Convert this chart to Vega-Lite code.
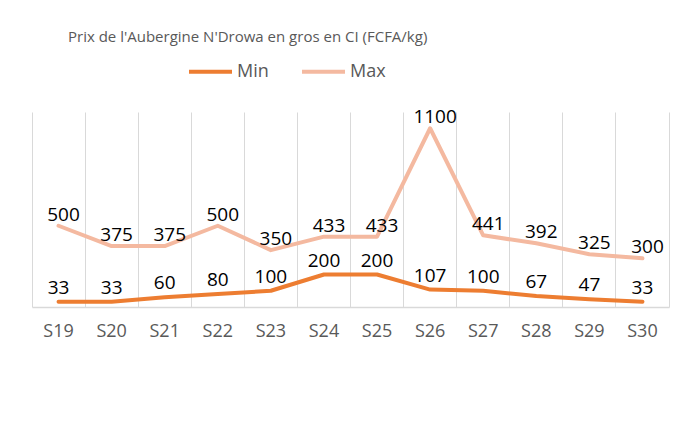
{
  "$schema": "https://vega.github.io/schema/vega-lite/v6.json",
  "width": 637,
  "height": 195,
  "autosize": {"type": "none"},
  "padding": {"left": 32, "top": 112, "right": 4, "bottom": 127},
  "background": "white",
  "config": {"view": {"stroke": null}, "font": "Open Sans"},
  "title": {
    "text": "Prix de l'Aubergine N'Drowa en gros en CI (FCFA/kg)",
    "anchor": "start",
    "frame": "group",
    "dx": 36,
    "offset": 3,
    "fontSize": 15,
    "fontWeight": "normal",
    "color": "#595959",
    "font": "Open Sans"
  },
  "data": {
    "values": [
      {"week": "S19", "series": "Min", "value": 33},
      {"week": "S20", "series": "Min", "value": 33},
      {"week": "S21", "series": "Min", "value": 60},
      {"week": "S22", "series": "Min", "value": 80},
      {"week": "S23", "series": "Min", "value": 100},
      {"week": "S24", "series": "Min", "value": 200},
      {"week": "S25", "series": "Min", "value": 200},
      {"week": "S26", "series": "Min", "value": 107},
      {"week": "S27", "series": "Min", "value": 100},
      {"week": "S28", "series": "Min", "value": 67},
      {"week": "S29", "series": "Min", "value": 47},
      {"week": "S30", "series": "Min", "value": 33},
      {"week": "S19", "series": "Max", "value": 500},
      {"week": "S20", "series": "Max", "value": 375},
      {"week": "S21", "series": "Max", "value": 375},
      {"week": "S22", "series": "Max", "value": 500},
      {"week": "S23", "series": "Max", "value": 350},
      {"week": "S24", "series": "Max", "value": 433},
      {"week": "S25", "series": "Max", "value": 433},
      {"week": "S26", "series": "Max", "value": 1100},
      {"week": "S27", "series": "Max", "value": 441},
      {"week": "S28", "series": "Max", "value": 392},
      {"week": "S29", "series": "Max", "value": 325},
      {"week": "S30", "series": "Max", "value": 300}
    ]
  },
  "layer": [
    {
      "mark": {"type": "line", "strokeWidth": 4, "strokeCap": "round", "strokeJoin": "round"},
      "encoding": {
        "x": {
          "field": "week", "type": "ordinal", "sort": null,
          "scale": {"type": "band", "paddingInner": 0, "paddingOuter": 0},
          "axis": {"orient": "bottom", "title": null, "domainColor": "#d9d9d9", "domainWidth": 1.5, "ticks": false, "grid": false, "labelColor": "#595959", "labelFontSize": 18, "labelPadding": 15, "labelAngle": 0, "labelFont": "Open Sans"}
        },
        "y": {
          "field": "value", "type": "quantitative",
          "scale": {"domain": [0, 1200], "nice": false, "zero": true},
          "axis": {"orient": "right", "title": null, "labels": false, "ticks": false, "grid": false, "domain": true, "domainColor": "#d9d9d9", "domainWidth": 1}
        },
        "color": {
          "field": "series", "type": "nominal",
          "scale": {"domain": ["Min", "Max"], "range": ["#ED7D31", "#F4B9A0"]},
          "legend": {"orient": "none", "legendX": 155, "legendY": -64, "direction": "horizontal", "title": null, "symbolType": "stroke", "symbolSize": 1849, "symbolStrokeWidth": 4, "labelFontSize": 18, "labelColor": "#595959", "columnPadding": 25, "labelOffset": 3, "labelFont": "Open Sans"}
        }
      }
    },
    {
      "transform": [{"filter": "datum.series === 'Min'"}],
      "mark": {"type": "text", "dy": -14, "fontSize": 19, "color": "#000000", "font": "Open Sans"},
      "encoding": {
        "x": {
          "field": "week", "type": "ordinal", "sort": null,
          "axis": {"orient": "bottom", "title": null, "labels": false, "ticks": false, "domain": false, "grid": true, "gridColor": "#d9d9d9", "gridWidth": 1, "bandPosition": 0}
        },
        "y": {"field": "value", "type": "quantitative", "axis": null},
        "text": {"field": "value", "type": "quantitative"}
      }
    },
    {
      "transform": [{"filter": "datum.series === 'Max'"}],
      "mark": {"type": "text", "dy": -11, "dx": 5, "fontSize": 19, "color": "#000000", "font": "Open Sans"},
      "encoding": {
        "x": {"field": "week", "type": "ordinal", "sort": null, "axis": null},
        "y": {"field": "value", "type": "quantitative", "axis": null},
        "text": {"field": "value", "type": "quantitative"}
      }
    }
  ],
  "resolve": {"axis": {"x": "independent", "y": "independent"}}
}
